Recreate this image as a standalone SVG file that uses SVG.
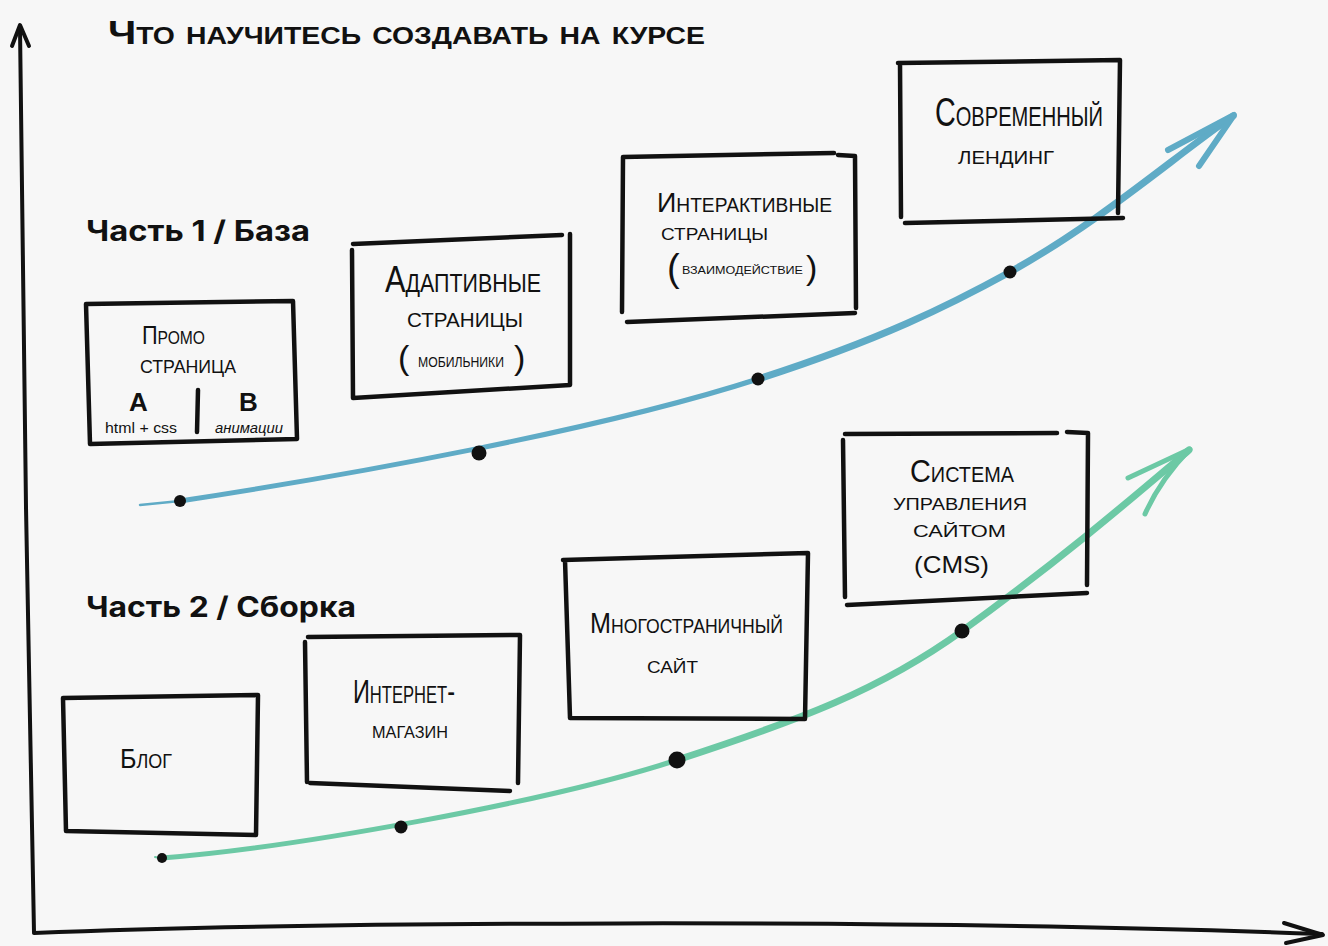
<svg xmlns="http://www.w3.org/2000/svg" width="1328" height="946" viewBox="0 0 1328 946">
<style>
.box{fill:none;stroke:#111;stroke-width:4.5;stroke-linecap:round;stroke-linejoin:round}
.hw{font-family:"Liberation Sans",Arial,sans-serif;font-variant:small-caps;fill:#111}
.pl{font-family:"Liberation Sans",Arial,sans-serif;fill:#111}
.par{font-family:"Liberation Sans",Arial,sans-serif;fill:#111}
.part{font-family:Inter,"Noto Sans",sans-serif;font-weight:700;fill:#111}
.axis{fill:none;stroke:#111;stroke-width:4;stroke-linecap:round;stroke-linejoin:round}
.blue{fill:none;stroke:#5fabc6;stroke-linecap:round;stroke-linejoin:round}
.green{fill:none;stroke:#6cc9a5;stroke-linecap:round;stroke-linejoin:round}
.dot{fill:#111}
</style>
<rect width="1328" height="946" fill="#f7f7f7"/>

<g id="title">
<text class="hw" x="108" y="44" font-size="34" font-weight="700" textLength="597" lengthAdjust="spacingAndGlyphs">Что научитесь создавать на курсе</text>
</g>

<g id="connectors">
<path class="axis" d="M20,28 C22,300 28,650 34,932"/>
<path class="axis" d="M12,46 L20,25 L29,46"/>
<path class="axis" d="M34,933 C300,922 900,918 1322,934"/>
<path class="axis" d="M1284,923 L1323,935 L1286,943"/>

<path class="blue" stroke-width="2.5" d="M140,505 Q160,503 180,501"/>
<path class="blue" stroke-width="5" d="M180,501 C350,475 600,430 758,379"/>
<path class="blue" stroke-width="7" d="M758,379 C880,340 950,305 1010,272 C1100,222 1170,160 1233,116"/>
<path class="blue" stroke-width="6" d="M1168,150 L1234,115 L1199,166"/>

<path class="green" stroke-width="2" d="M155,857 Q158,858 162,858"/>
<path class="green" stroke-width="5" d="M162,858 C290,848 545,803 677,760"/>
<path class="green" stroke-width="7" d="M677,760 C800,720 880,690 962,631 C1060,560 1130,500 1189,450"/>
<path class="green" stroke-width="5" d="M1128,478 L1190,449 Q1160,480 1145,514"/>

<circle class="dot" cx="180" cy="501" r="6"/>
<circle class="dot" cx="479" cy="453" r="7.5"/>
<circle class="dot" cx="758" cy="379" r="6.5"/>
<circle class="dot" cx="1010" cy="272" r="6.5"/>
<circle class="dot" cx="162" cy="858" r="5"/>
<circle class="dot" cx="401" cy="827" r="6.5"/>
<circle class="dot" cx="677" cy="760" r="8.5"/>
<circle class="dot" cx="962" cy="631" r="7.5"/>
</g>

<g id="part1">
<text class="part" x="86" y="241" font-size="28" textLength="224" lengthAdjust="spacingAndGlyphs">Часть 1 / База</text>
</g>
<g id="part2">
<text class="part" x="86" y="617" font-size="28" textLength="270" lengthAdjust="spacingAndGlyphs">Часть 2 / Сборка</text>
</g>

<g id="node-promo">
<path class="box" d="M86,304 L293,301 L297,439 L90,444 L86,304"/>
<line class="box" x1="198" y1="390" x2="197" y2="432" stroke-width="3"/>
<text class="hw" x="142" y="344" font-size="25" textLength="63" lengthAdjust="spacingAndGlyphs">Промо</text>
<text class="hw" x="140" y="373" font-size="25" textLength="96" lengthAdjust="spacingAndGlyphs">страница</text>
<text class="pl" x="129" y="411" font-size="26" font-weight="700">A</text>
<text class="pl" x="239" y="411" font-size="26" font-weight="700">B</text>
<text class="pl" x="105" y="433" font-size="15" textLength="72" lengthAdjust="spacingAndGlyphs">html + css</text>
<text class="pl" x="215" y="433" font-size="15" font-style="italic" textLength="68" lengthAdjust="spacingAndGlyphs">анимации</text>
</g>

<g id="node-adaptive">
<path class="box" d="M353,244 L562,235 M570,234 L570,385 L353,398 L352,250"/>
<text class="hw" x="385" y="292" font-size="36" textLength="156" lengthAdjust="spacingAndGlyphs">Адаптивные</text>
<text class="hw" x="407" y="327" font-size="30" textLength="116" lengthAdjust="spacingAndGlyphs">страницы</text>
<text class="par" x="398" y="369" font-size="34">(</text>
<text class="hw" x="418" y="367" font-size="20" textLength="86" lengthAdjust="spacingAndGlyphs">мобильники</text>
<text class="par" x="514" y="369" font-size="34">)</text>
</g>

<g id="node-interactive">
<path class="box" d="M623,157 L834,153 M838,155 L855,156 L856,308 M855,313 L627,322 M622,312 L623,157"/>
<text class="hw" x="657" y="212" font-size="28" textLength="175" lengthAdjust="spacingAndGlyphs">Интерактивные</text>
<text class="hw" x="661" y="240" font-size="24" textLength="107" lengthAdjust="spacingAndGlyphs">страницы</text>
<text class="par" x="667" y="281" font-size="38">(</text>
<text class="hw" x="682" y="274" font-size="16" textLength="121" lengthAdjust="spacingAndGlyphs">взаимодействие</text>
<text class="par" x="806" y="279" font-size="34">)</text>
</g>

<g id="node-landing">
<path class="box" d="M898,63 L1120,60 L1118,213 M1123,218 L905,223 M901,217 L900,63"/>
<text class="hw" x="935" y="126" font-size="40" textLength="168" lengthAdjust="spacingAndGlyphs">Современный</text>
<text class="hw" x="958" y="164" font-size="26" textLength="96" lengthAdjust="spacingAndGlyphs">лендинг</text>
</g>

<g id="node-blog">
<path class="box" d="M63,698 L258,695 L256,835 L66,831 L63,698"/>
<text class="hw" x="120" y="768" font-size="28" textLength="52" lengthAdjust="spacingAndGlyphs">Блог</text>
</g>

<g id="node-shop">
<path class="box" d="M308,637 L520,635 L518,783 M510,791 L310,783 M307,782 L305,642"/>
<text class="hw" x="353" y="703" font-size="34" textLength="102" lengthAdjust="spacingAndGlyphs">Интернет-</text>
<text class="hw" x="372" y="738" font-size="24" textLength="76" lengthAdjust="spacingAndGlyphs">магазин</text>
</g>

<g id="node-multipage">
<path class="box" d="M563,560 L808,553 L805,719 L570,718 L565,560"/>
<text class="hw" x="590" y="633" font-size="30" textLength="193" lengthAdjust="spacingAndGlyphs">Многостраничный</text>
<text class="hw" x="647" y="673" font-size="24" textLength="51" lengthAdjust="spacingAndGlyphs">сайт</text>
</g>

<g id="node-cms">
<path class="box" d="M845,434 L1057,433 M1067,432 L1088,433 L1087,585 M1087,593 L847,605 M845,597 L843,440"/>
<text class="hw" x="910" y="482" font-size="32" textLength="104" lengthAdjust="spacingAndGlyphs">Система</text>
<text class="hw" x="893" y="510" font-size="24" textLength="134" lengthAdjust="spacingAndGlyphs">управления</text>
<text class="hw" x="913" y="537" font-size="24" textLength="93" lengthAdjust="spacingAndGlyphs">сайтом</text>
<text class="pl" x="914" y="573" font-size="24" textLength="75" lengthAdjust="spacingAndGlyphs">(CMS)</text>
</g>
</svg>
